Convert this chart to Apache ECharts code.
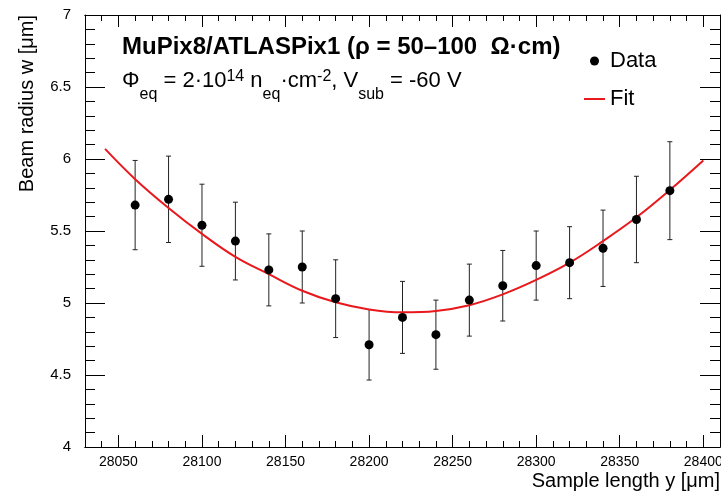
<!DOCTYPE html>
<html>
<head>
<meta charset="utf-8">
<script src="https://cdn.jsdelivr.net/npm/echarts@6/dist/echarts.min.js"></script>
<style>
html,body{margin:0;padding:0;background:#fff;}
#main{width:721px;height:494px;}
</style>
</head>
<body>
<div id="main"></div>
<script>
// ---- data ----
const sampleY = [28060, 28080, 28100, 28120, 28140, 28160, 28180, 28200, 28220, 28240, 28260, 28280, 28300, 28320, 28340, 28360, 28380];
const beamW   = [5.68, 5.72, 5.54, 5.43, 5.23, 5.25, 5.03, 4.71, 4.90, 4.78, 5.02, 5.12, 5.26, 5.28, 5.38, 5.58, 5.78];
const errW    = [0.31, 0.30, 0.285, 0.27, 0.25, 0.25, 0.27, 0.245, 0.25, 0.24, 0.25, 0.245, 0.24, 0.25, 0.265, 0.30, 0.34];

const fitY = [28042, 28060, 28080, 28100, 28120, 28140, 28160, 28180, 28200, 28220, 28240, 28260, 28280, 28300, 28320, 28340, 28360, 28380, 28400];
const fitW = [6.07, 5.86, 5.66, 5.48, 5.32, 5.20, 5.085, 5.005, 4.955, 4.935, 4.945, 4.985, 5.06, 5.16, 5.28, 5.43, 5.595, 5.785, 5.99];

const xMajorTicks = [28050, 28100, 28150, 28200, 28250, 28300, 28350, 28400];
const xMinorTicks = [28040, 28050, 28060, 28070, 28080, 28090, 28100, 28110, 28120, 28130, 28140, 28150, 28160, 28170, 28180, 28190, 28200, 28210, 28220, 28230, 28240, 28250, 28260, 28270, 28280, 28290, 28300, 28310, 28320, 28330, 28340, 28350, 28360, 28370, 28380, 28390, 28400, 28410];

const FONT = "'Liberation Sans', Arial, Helvetica, sans-serif";
const X_MIN = 28030, X_MAX = 28410, Y_MIN = 4, Y_MAX = 7;

const chart = echarts.init(document.getElementById('main'), null, {renderer: 'canvas'});

const lineStyle = {color: '#000', width: 1};

function xAx(pos, ticks, len, labels) {
  return {
    type: 'value', position: pos, min: X_MIN, max: X_MAX,
    axisLine: {show: true, onZero: false, lineStyle: lineStyle},
    axisTick: {show: true, inside: true, length: len, customValues: ticks, lineStyle: lineStyle},
    axisLabel: labels ? {show: true, customValues: xMajorTicks, fontSize: 14, fontFamily: FONT, color: '#000', margin: 8,
                         formatter: function (v) { return String(v); }} : {show: false},
    splitLine: {show: false}
  };
}
function yAx(pos, labels) {
  return {
    type: 'value', position: pos, min: Y_MIN, max: Y_MAX, interval: 0.5,
    axisLine: {show: true, onZero: false, lineStyle: lineStyle},
    axisTick: {show: true, inside: true, length: 20, lineStyle: lineStyle},
    minorTick: {show: true, splitNumber: 5, length: 10, lineStyle: lineStyle},
    axisLabel: labels ? {show: true, fontSize: 15, fontFamily: FONT, color: '#000', margin: 14} : {show: false},
    splitLine: {show: false}
  };
}

const option = {
  animation: false,
  backgroundColor: '#fff',
  grid: {left: 85, right: 1, top: 15, bottom: 47, containLabel: false, outerBoundsMode: 'none'},
  xAxis: [
    xAx('bottom', xMajorTicks, 12, true),
    xAx('bottom', xMinorTicks, 6, false),
    xAx('top', xMajorTicks, 12, false),
    xAx('top', xMinorTicks, 6, false)
  ],
  yAxis: [yAx('left', true), yAx('right', false)],
  legend: {
    orient: 'vertical', left: 578, top: 45, itemWidth: 21, itemHeight: 9, itemGap: 16,
    textStyle: {fontSize: 22, fontFamily: FONT, color: '#000'},
    data: [
      {name: 'Data', icon: 'circle', itemStyle: {color: '#000', opacity: 1}},
      {name: 'Fit', itemStyle: {opacity: 0}, lineStyle: {color: '#e8181c', width: 2}}
    ]
  },
  graphic: [
    {type: 'text', x: 122, y: 47.5, style: {text: 'MuPix8/ATLASPix1 (ρ = 50–100  Ω·cm)', font: 'bold 24px ' + FONT, fill: '#000', textVerticalAlign: 'middle'}},
    {type: 'text', x: 122, y: 59, style: {
      text: '{n|Φ}{sub|eq}{n| = 2·10}{sup|14}{n| n}{sub|eq}{n|·cm}{sup|-2}{n|, V}{sub|sub}{n| = -60 V}',
      textVerticalAlign: 'top',
      rich: {
        n: {fontSize: 22, fontFamily: FONT, color: '#000', lineHeight: 44, verticalAlign: 'middle'},
        sub: {fontSize: 16, fontFamily: FONT, color: '#000', verticalAlign: 'bottom'},
        sup: {fontSize: 16, fontFamily: FONT, color: '#000', verticalAlign: 'middle', padding: [0, 0, 8, 0]}
      }
    }},
    {type: 'text', x: 27, y: 15, rotation: Math.PI / 2, style: {text: 'Beam radius w [μm]', font: '20px ' + FONT, fill: '#000', textAlign: 'right', textVerticalAlign: 'middle'}},
    {type: 'text', x: 720, y: 481, style: {text: 'Sample length y [μm]', font: '20px ' + FONT, fill: '#000', textAlign: 'right', textVerticalAlign: 'middle'}}
  ],
  series: [
    {
      name: 'ErrorBars', type: 'custom', xAxisIndex: 0, yAxisIndex: 0, z: 2,
      data: sampleY.map((x, i) => [x, beamW[i] - errW[i], beamW[i] + errW[i]]),
      renderItem: function (params, api) {
        const lo = api.coord([api.value(0), api.value(1)]);
        const hi = api.coord([api.value(0), api.value(2)]);
        const c = 2.5;
        const st = {stroke: '#222', lineWidth: 1};
        return {type: 'group', children: [
          {type: 'line', shape: {x1: lo[0], y1: lo[1], x2: hi[0], y2: hi[1]}, style: st},
          {type: 'line', shape: {x1: lo[0] - c, y1: lo[1], x2: lo[0] + c, y2: lo[1]}, style: st},
          {type: 'line', shape: {x1: hi[0] - c, y1: hi[1], x2: hi[0] + c, y2: hi[1]}, style: st}
        ]};
      }
    },
    {
      name: 'Fit', type: 'line', xAxisIndex: 0, yAxisIndex: 0, z: 3,
      data: fitY.map((x, i) => [x, fitW[i]]),
      smooth: 0.4, symbol: 'none', showSymbol: false,
      lineStyle: {color: '#e8181c', width: 2},
      itemStyle: {color: '#e8181c'}
    },
    {
      name: 'Data', type: 'scatter', xAxisIndex: 0, yAxisIndex: 0, z: 4,
      data: sampleY.map((x, i) => [x, beamW[i]]),
      symbol: 'circle', symbolSize: 9,
      itemStyle: {color: '#000', opacity: 1}
    }
  ]
};
chart.setOption(option);
</script>
</body>
</html>
